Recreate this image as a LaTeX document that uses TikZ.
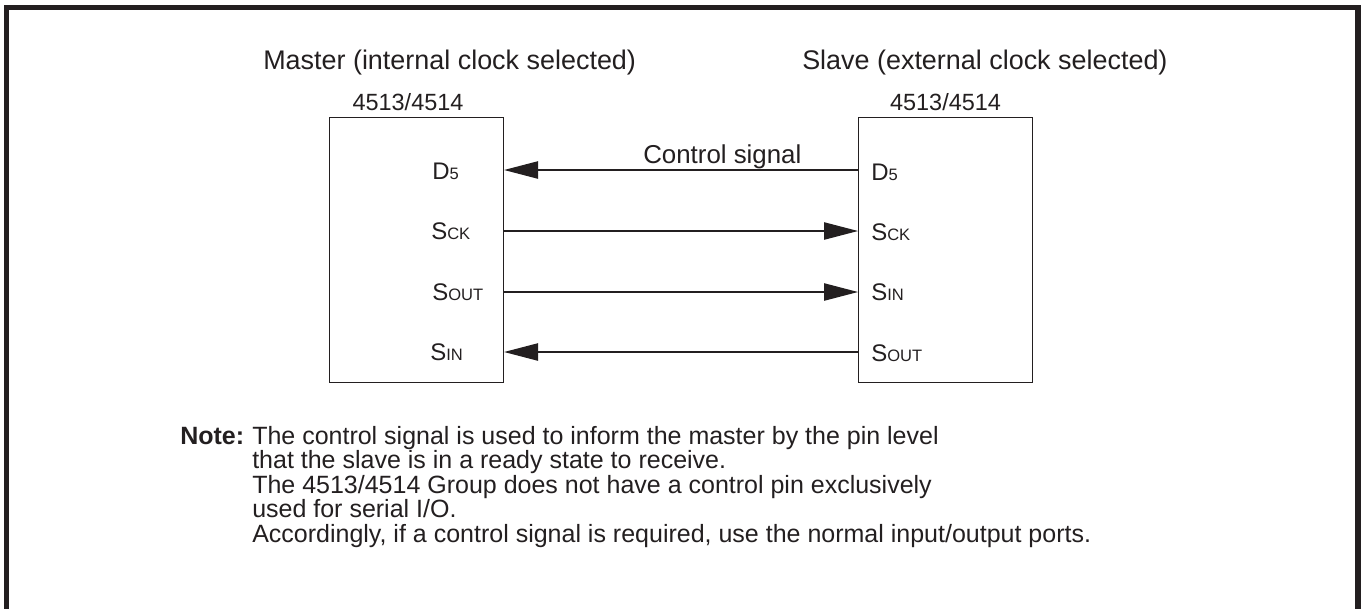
\documentclass[tikz,border=0pt]{standalone}
\usepackage{fontspec}
\setmainfont{Liberation Sans}
\usetikzlibrary{arrows.meta}
\definecolor{ink}{HTML}{231F20}
\newcommand{\pinlbl}[2]{#1{\fontsize{12.4}{14}\selectfont #2}}
\begin{document}
\begin{tikzpicture}[x=0.75pt,y=-0.75pt,
  txt/.style={inner sep=0pt, text=ink},
  titletxt/.style={txt, anchor=base west, font=\fontsize{20.2}{24}\selectfont},
  chiptxt/.style={txt, anchor=base, font=\fontsize{17.6}{21}\selectfont},
  pinl/.style={txt, anchor=base west, font=\fontsize{18}{21}\selectfont},
  notetxt/.style={txt, anchor=base west, font=\fontsize{18.75}{22}\selectfont},
  chipbox/.style={draw=ink, line width=0.8pt, inner sep=0pt, minimum width=130.5pt, minimum height=198.75pt, anchor=north west},
  sig/.style={draw=ink, line width=1pt, -{Triangle[length=25.5pt,width=13pt]}}]
\useasboundingbox (0,0) rectangle (1363,608);
% outer frame (open at the bottom)
\draw[ink, line width=4.1pt] (6.5,640) -- (6.5,7.5) -- (1358,7.5) -- (1358,640);

% titles
\node[titletxt] (mtitle) at (263,69) {Master (internal clock selected)};
\node[titletxt] (stitle) at (802,69) {Slave (external clock selected)};

% chip boxes
\node[chipbox] (mbox) at (329,117) {};
\node[chipbox] (sbox) at (858,117) {};
\node[chiptxt] (mchip) at (408,110) {4513/4514};
\node[chiptxt] (schip) at (sbox.north |- 0,110) {4513/4514};

% master pins
\node[pinl] (mD) at (432,179) {\pinlbl{D}{5}};
\node[pinl] (mSck) at (431,239) {\pinlbl{S}{CK}};
\node[pinl] (mSout) at (432,300) {\pinlbl{S}{OUT}};
\node[pinl] (mSin) at (430,360) {\pinlbl{S}{IN}};
% slave pins
\node[pinl] (sD) at (871,180) {\pinlbl{D}{5}};
\node[pinl] (sSck) at (871,240) {\pinlbl{S}{CK}};
\node[pinl] (sSin) at (871,300) {\pinlbl{S}{IN}};
\node[pinl] (sSout) at (871,361) {\pinlbl{S}{OUT}};

% connection points on the box edges
\coordinate (mD5e) at (mbox.east |- 0,170);
\coordinate (mSckE) at (mbox.east |- 0,231);
\coordinate (mSoutE) at (mbox.east |- 0,292);
\coordinate (mSinE) at (mbox.east |- 0,352);
\coordinate (sD5w) at (sbox.west |- 0,170);
\coordinate (sSckW) at (sbox.west |- 0,231);
\coordinate (sSinW) at (sbox.west |- 0,292);
\coordinate (sSoutW) at (sbox.west |- 0,352);

\draw[sig] (sD5w) -- (mD5e);
\draw[sig] (mSckE) -- (sSckW);
\draw[sig] (mSoutE) -- (sSinW);
\draw[sig] (sSoutW) -- (mSinE);
\node[titletxt, font=\fontsize{19.4}{23}\selectfont] (ctrl) at (643,163) {Control signal};

% note
\node[notetxt, font=\fontsize{18.75}{22}\selectfont\bfseries] (note) at (180,444) {Note:};
\node[notetxt] (n1) at (252,444) {The control signal is used to inform the master by the pin level};
\node[notetxt] (n2) at (252,468.5) {that the slave is in a ready state to receive.};
\node[notetxt] (n3) at (252,493) {The 4513/4514 Group does not have a control pin exclusively};
\node[notetxt] (n4) at (252,517.5) {used for serial I/O.};
\node[notetxt] (n5) at (252,542) {Accordingly, if a control signal is required, use the normal input/output ports.};
\end{tikzpicture}
\end{document}
